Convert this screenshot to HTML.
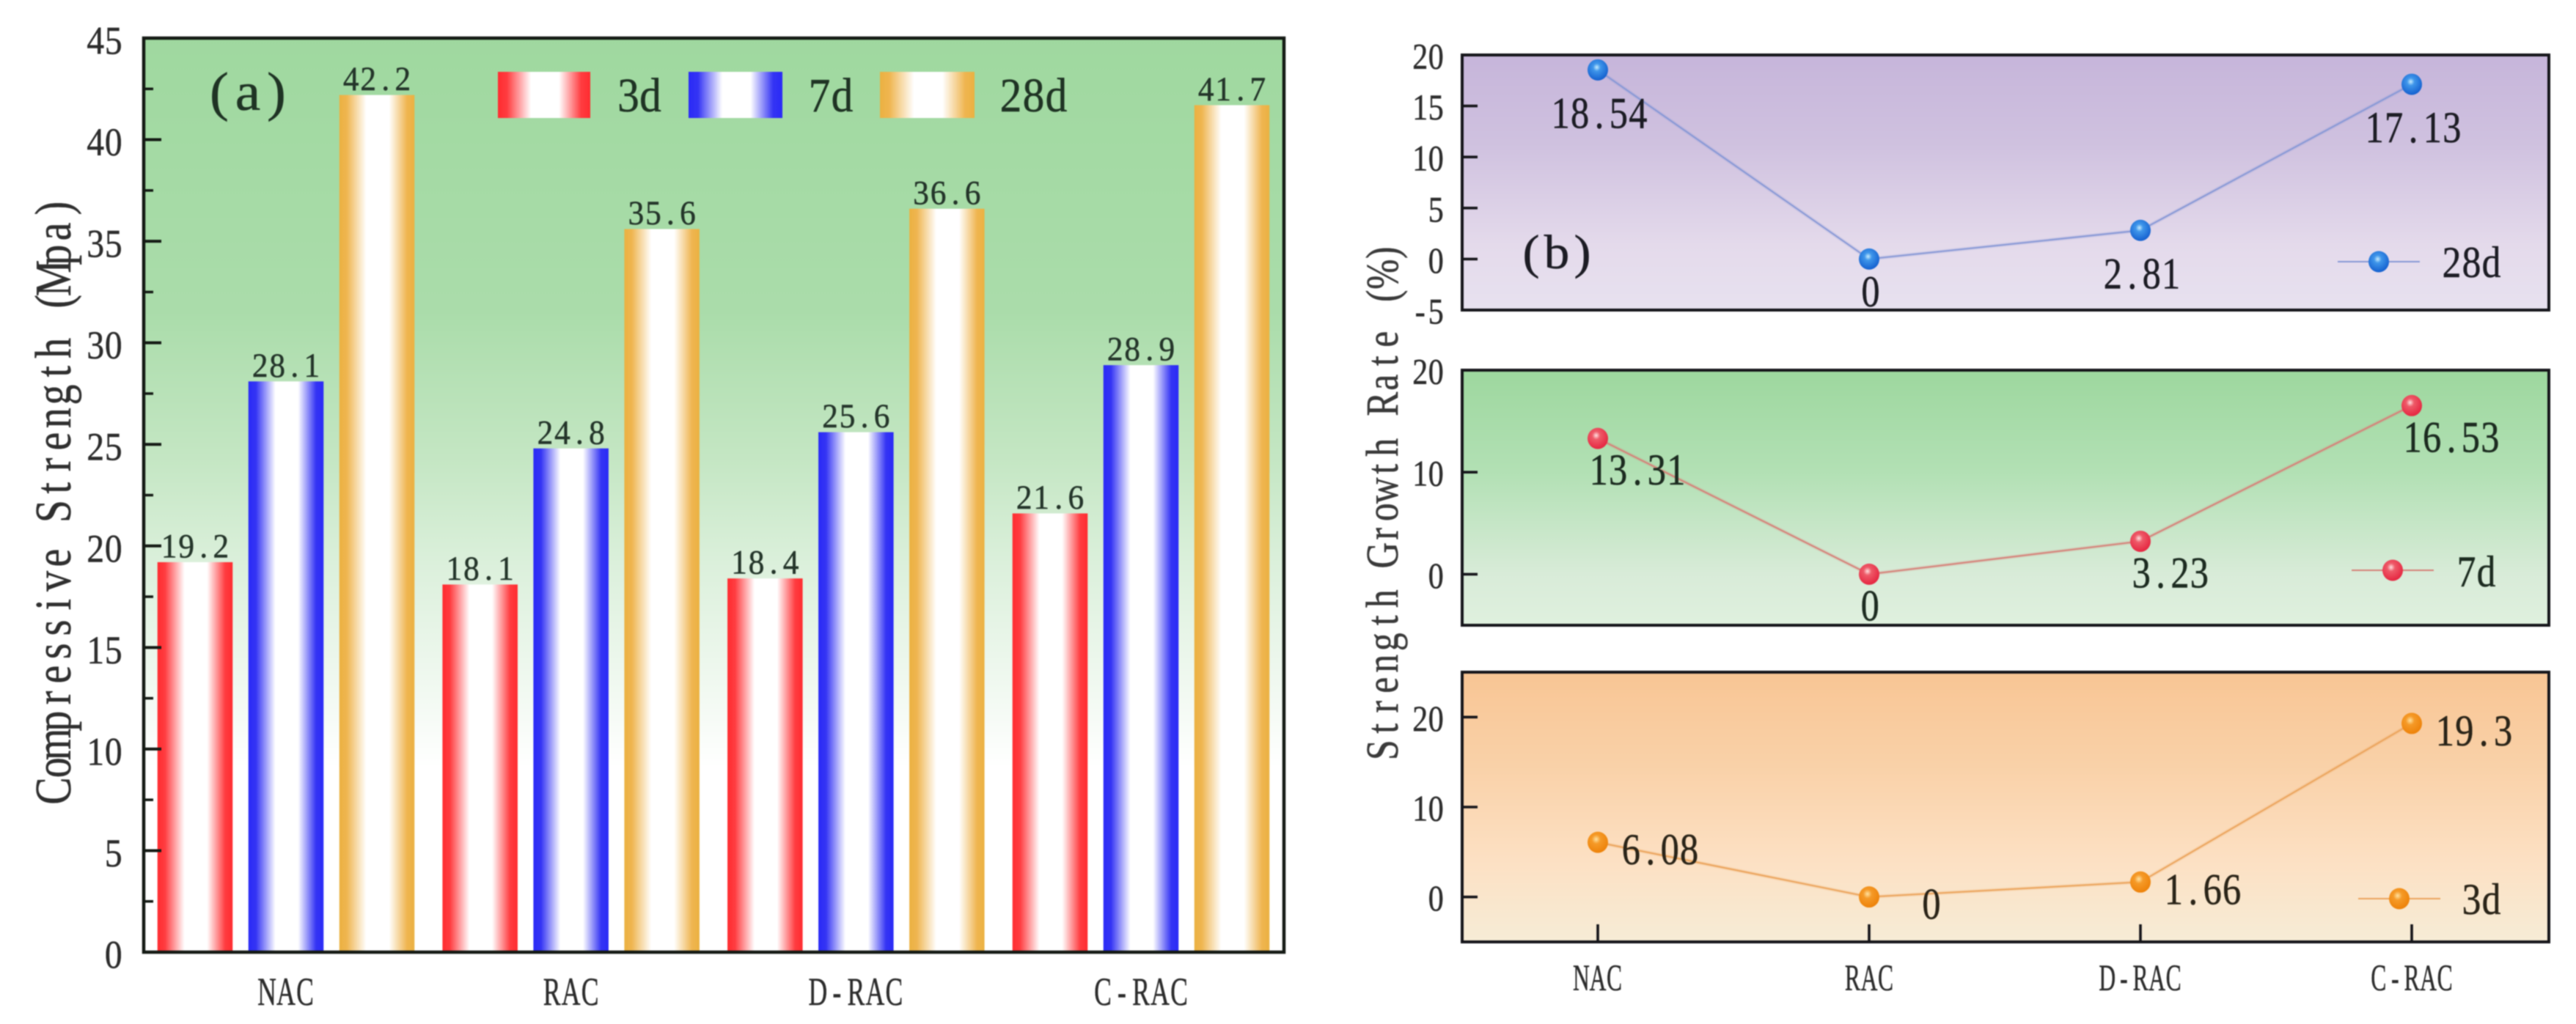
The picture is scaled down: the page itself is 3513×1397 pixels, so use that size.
<!DOCTYPE html>
<html lang="en">
<head>
<meta charset="utf-8">
<title>Compressive strength and strength growth rate</title>
<style>
html,body{margin:0;padding:0;background:#fff;}
#figure{display:block;width:3513px;height:1397px;filter:blur(0.9px);}
text{font-family:"Liberation Serif","Noto Serif CJK SC",serif;white-space:pre;}
</style>
</head>
<body>
<svg id="figure" xmlns="http://www.w3.org/2000/svg" width="3513" height="1397" viewBox="0 0 3513 1397">
<defs>
<linearGradient id="bg-green-a" x1="0" y1="0" x2="0" y2="1">
<stop offset="0" stop-color="#9fd89f"/><stop offset="0.3" stop-color="#aadcaa"/><stop offset="0.46" stop-color="#c4e6c3"/><stop offset="0.58" stop-color="#dcf0dc"/><stop offset="0.72" stop-color="#f2f9f2"/><stop offset="0.8" stop-color="#ffffff"/><stop offset="1" stop-color="#ffffff"/>
</linearGradient>
<linearGradient id="bg-purple" x1="0" y1="0" x2="0" y2="1"><stop offset="0" stop-color="#c6b5da"/><stop offset="0.35" stop-color="#cfc1df"/><stop offset="0.75" stop-color="#e4daeb"/><stop offset="1" stop-color="#e7e1ef"/></linearGradient>
<linearGradient id="bg-green-b" x1="0" y1="0" x2="0" y2="1"><stop offset="0" stop-color="#9dd79e"/><stop offset="0.4" stop-color="#b2e0b4"/><stop offset="0.8" stop-color="#d8ebd8"/><stop offset="1" stop-color="#dff0de"/></linearGradient>
<linearGradient id="bg-orange" x1="0" y1="0" x2="0" y2="1"><stop offset="0" stop-color="#f8c594"/><stop offset="0.35" stop-color="#f9d1a8"/><stop offset="0.7" stop-color="#fce0c3"/><stop offset="1" stop-color="#f6ecd6"/></linearGradient>
<linearGradient id="bar-red" x1="0" y1="0" x2="1" y2="0"><stop offset="0" stop-color="#ff2c30"/><stop offset="0.1" stop-color="#ff3c40"/><stop offset="0.36" stop-color="#ffffff"/><stop offset="0.66" stop-color="#ffffff"/><stop offset="0.9" stop-color="#ff3c40"/><stop offset="1" stop-color="#ff2c30"/></linearGradient>
<linearGradient id="bar-blue" x1="0" y1="0" x2="1" y2="0"><stop offset="0" stop-color="#2a2af6"/><stop offset="0.1" stop-color="#3434f4"/><stop offset="0.36" stop-color="#ffffff"/><stop offset="0.66" stop-color="#ffffff"/><stop offset="0.9" stop-color="#3434f4"/><stop offset="1" stop-color="#2a2af6"/></linearGradient>
<linearGradient id="bar-orange" x1="0" y1="0" x2="1" y2="0"><stop offset="0" stop-color="#ebb141"/><stop offset="0.1" stop-color="#efb550"/><stop offset="0.36" stop-color="#ffffff"/><stop offset="0.66" stop-color="#ffffff"/><stop offset="0.9" stop-color="#efb550"/><stop offset="1" stop-color="#ebb141"/></linearGradient>
<radialGradient id="ball-blue" cx="0.45" cy="0.38" r="0.6"><stop offset="0" stop-color="#c6ecff"/><stop offset="0.3" stop-color="#3f96ea"/><stop offset="1" stop-color="#1662d0"/></radialGradient>
<radialGradient id="ball-red" cx="0.42" cy="0.36" r="0.6"><stop offset="0" stop-color="#ffe0e0"/><stop offset="0.32" stop-color="#ee5a68"/><stop offset="1" stop-color="#e62a44"/></radialGradient>
<radialGradient id="ball-orange" cx="0.42" cy="0.36" r="0.6"><stop offset="0" stop-color="#ffe2a0"/><stop offset="0.35" stop-color="#f59a28"/><stop offset="1" stop-color="#ee840c"/></radialGradient>
</defs>
<g id="chart-root"></g>
</svg>
<script>
const categories = ['NAC', 'RAC', 'D-RAC', 'C-RAC'];
const strength3d = [19.2, 18.1, 18.4, 21.6];
const strength7d = [28.1, 24.8, 25.6, 28.9];
const strength28d = [42.2, 35.6, 36.6, 41.7];
const strengthTicks = [0, 5, 10, 15, 20, 25, 30, 35, 40, 45];
const growth28d = [18.54, 0, 2.81, 17.13];
const growth7d = [13.31, 0, 3.23, 16.53];
const growth3d = [6.08, 0, 1.66, 19.3];
const growth28dTicks = [-5, 0, 5, 10, 15, 20];
const growth7dTicks = [0, 10, 20];
const growth3dTicks = [0, 10, 20];

const NS = 'http://www.w3.org/2000/svg';
const root = document.getElementById('chart-root');

function make(parent, tag, attrs) {
  const el = document.createElementNS(NS, tag);
  for (const k in attrs) el.setAttribute(k, attrs[k]);
  parent.appendChild(el);
  return el;
}

// Text laid out in even half-em cells, imitating the original Song typeface.
function cellText(parent, str, anchorX, baseline, o) {
  const n = str.length;
  const left = o.anchor === 'end' ? anchorX - n * o.pitch : o.anchor === 'start' ? anchorX : anchorX - n * o.pitch / 2;
  const xs = [];
  for (let i = 0; i < n; i++) xs.push(((i + 0.5) * o.pitch / o.sx).toFixed(2));
  const fill = o.fill || '#1f1f1f';
  const el = make(parent, 'text', {
    x: xs.join(' '), y: 0, 'text-anchor': 'middle', 'font-size': o.size, fill: fill, stroke: fill, 'stroke-width': 0.5,
    transform: 'translate(' + left + ' ' + baseline + ') scale(' + o.sx + ' 1)'
  });
  el.textContent = str;
  return el;
}

function verticalTitle(parent, str, baselineX, bottomY, o) {
  const xs = [];
  for (let i = 0; i < str.length; i++) xs.push(((i + 0.5) * o.pitch / o.sx).toFixed(2));
  const fill = o.fill || '#333';
  const el = make(parent, 'text', {
    x: xs.join(' '), y: 0, 'text-anchor': 'middle', 'font-size': o.size, fill: fill, stroke: fill, 'stroke-width': 0.5,
    transform: 'translate(' + baselineX + ' ' + bottomY + ') rotate(-90) scale(' + o.sx + ' 1)'
  });
  el.textContent = str;
  return el;
}

function linear(d0, d1, r0, r1) {
  return v => r0 + (v - d0) * (r1 - r0) / (d1 - d0);
}

/* ---------- Panel (a): bar chart ---------- */
const panelA = make(root, 'g', {});



const aBox = { left: 196, right: 1751, top: 52, bottom: 1299 };
const yA = linear(0, 45, aBox.bottom, aBox.top);
const xA = linear(0, 3, 390, 1556);
const barSpread = 124;
const barWidth = 102.5;

const aBg = make(panelA, 'rect', { x: aBox.left, y: aBox.top, width: aBox.right - aBox.left, height: aBox.bottom - aBox.top, fill: 'url(#bg-green-a)' });



const barSeries = [
  { key: '3d', values: strength3d, fill: 'url(#bar-red)', offset: -1 },
  { key: '7d', values: strength7d, fill: 'url(#bar-blue)', offset: 0 },
  { key: '28d', values: strength28d, fill: 'url(#bar-orange)', offset: 1 }
];

barSeries.forEach(s => {
  s.values.forEach((v, i) => {
    const cx = xA(i) + s.offset * barSpread;
    const bar = make(panelA, 'rect', { x: cx - barWidth / 2, y: yA(v), width: barWidth, height: yA(0) - yA(v), fill: s.fill });
    
    
    const label = cellText(panelA, String(v), cx, yA(v) - 6.5, { size: 47, pitch: 23.5, sx: 0.92, fill: '#24352a' });
    
    
  });
});

const aFrame = make(panelA, 'rect', { x: aBox.left, y: aBox.top, width: aBox.right - aBox.left, height: aBox.bottom - aBox.top, fill: 'none', stroke: '#141a14', 'stroke-width': 4.5 });



strengthTicks.forEach((t, i) => {
  const y = yA(t);
  if (t > 0 && t < 45) {
    const major = make(panelA, 'line', { x1: aBox.left, x2: aBox.left + 24, y1: y, y2: y, stroke: '#141a14', 'stroke-width': 4 });
    
    
  }
  const label = cellText(panelA, String(t), 167, y + 21.5, { size: 54, pitch: 24.5, sx: 0.88, anchor: 'end', fill: '#2c2c2c' });
  
  
  if (i < strengthTicks.length - 1) {
    const m = (t + strengthTicks[i + 1]) / 2;
    const minor = make(panelA, 'line', { x1: aBox.left, x2: aBox.left + 13, y1: yA(m), y2: yA(m), stroke: '#141a14', 'stroke-width': 3.5 });
    
    
  }
});

categories.forEach((c, i) => {
  const label = cellText(panelA, c, xA(i), 1371, { size: 54, pitch: 26, sx: 0.66, fill: '#2c2c2c' });
  
  
});

const aTitle = verticalTitle(panelA, 'Compressive Strength (Mpa)', 96, 1095, { size: 70, pitch: 31.8, sx: 0.8, fill: '#2f2f2f' });



const aTag = cellText(panelA, '(a)', 338, 150, { size: 74, pitch: 39, sx: 1.05, fill: '#1f3324' });



const legendA = make(panelA, 'g', {});


const legendEntries = [
  { key: '3d', fill: 'url(#bar-red)', sx0: 679, sw: 126, tx: 842, pitch: 30 },
  { key: '7d', fill: 'url(#bar-blue)', sx0: 939, sw: 128, tx: 1102, pitch: 31 },
  { key: '28d', fill: 'url(#bar-orange)', sx0: 1200, sw: 129, tx: 1363, pitch: 31 }
];
legendEntries.forEach(e => {
  const sw = make(legendA, 'rect', { x: e.sx0, y: 98, width: e.sw, height: 63, fill: e.fill });
  
  
  const t = cellText(legendA, e.key, e.tx, 152, { size: 66, pitch: e.pitch, sx: 0.9, anchor: 'start', fill: '#1f3324' });
  
  
});

/* ---------- Panel (b): stacked line charts ---------- */
const panelB = make(root, 'g', {});



const bLeft = 1994, bRight = 3476;
const xB = linear(0, 3, 2179, 3289);

const subplots = [
  { key: '28d', values: growth28d, ticks: growth28dTicks, top: 75, bottom: 423, d0: -5, d1: 20, bg: 'url(#bg-purple)', ball: 'url(#ball-blue)', line: '#8798d6', textFill: '#1c1c24',
    labelAnchor: 'middle', labelDx: 2, labelDy: 79, legendX: 3188, legendY: 357, legendBaseline: 378, legendTx: 3330 },
  { key: '7d', values: growth7d, ticks: growth7dTicks, top: 505, bottom: 853, d0: -5, d1: 20, bg: 'url(#bg-green-b)', ball: 'url(#ball-red)', line: '#d68078', textFill: '#1c2b20',
    labelAnchor: 'start', labelDx: -12, labelDy: 63, legendX: 3207, legendY: 778, legendBaseline: 800, legendTx: 3350 },
  { key: '3d', values: growth3d, ticks: growth3dTicks, top: 917, bottom: 1285, d0: -5, d1: 25, bg: 'url(#bg-orange)', ball: 'url(#ball-orange)', line: '#eba45c', textFill: '#2a2418',
    labelAnchor: 'middle', labelDx: 85, labelDy: 30, legendX: 3216, legendY: 1226, legendBaseline: 1247, legendTx: 3357 }
];

subplots.forEach(p => {
  const g = make(panelB, 'g', {});
  
  
  const y = linear(p.d0, p.d1, p.bottom, p.top);

  const bg = make(g, 'rect', { x: bLeft, y: p.top, width: bRight - bLeft, height: p.bottom - p.top, fill: p.bg });
  
  

  const points = p.values.map((v, i) => xB(i) + ',' + y(v)).join(' ');
  const halo = make(g, 'polyline', { points: points, fill: 'none', stroke: p.line, 'stroke-width': 5, 'stroke-opacity': 0.22 });
  
  
  const line = make(g, 'polyline', { points: points, fill: 'none', stroke: p.line, 'stroke-width': 2 });
  
  

  const frame = make(g, 'rect', { x: bLeft, y: p.top, width: bRight - bLeft, height: p.bottom - p.top, fill: 'none', stroke: '#15151a', 'stroke-width': 4 });
  
  

  p.ticks.forEach(t => {
    const ty = y(t);
    if (ty > p.top + 4 && ty < p.bottom - 4) {
      const tick = make(g, 'line', { x1: bLeft, x2: bLeft + 21, y1: ty, y2: ty, stroke: '#15151a', 'stroke-width': 3.6 });
      
      
    }
    const lab = cellText(g, String(t), 1969, ty + 18.5, { size: 50, pitch: 21.5, sx: 0.84, anchor: 'end', fill: '#2c2c2c' });
    
    
  });

  p.values.forEach((v, i) => {
    const px = xB(i), py = y(v);
    const dot = make(g, 'ellipse', { cx: px, cy: py, rx: 14, ry: 14.5, fill: p.ball });
    
    
    const base = Math.min(py + p.labelDy, p.bottom - 5);
    const lab = cellText(g, String(v), px + p.labelDx, base, { size: 60, pitch: 26.4, sx: 0.84, anchor: p.labelAnchor, fill: p.textFill });
    
    
  });

  const lgLine = make(g, 'line', { x1: p.legendX, x2: p.legendX + 112, y1: p.legendY, y2: p.legendY, stroke: p.line, 'stroke-width': 2 });
  
  
  const lgDot = make(g, 'ellipse', { cx: p.legendX + 56, cy: p.legendY, rx: 14, ry: 14.5, fill: p.ball });
  
  
  const lgText = cellText(g, p.key, p.legendTx, p.legendBaseline, { size: 60, pitch: 27, sx: 0.86, anchor: 'start', fill: p.textFill });
  
  
});

categories.forEach((c, i) => {
  const tick = make(panelB, 'line', { x1: xB(i), x2: xB(i), y1: 1261, y2: 1285, stroke: '#15151a', 'stroke-width': 3.6 });
  
  
  const lab = cellText(panelB, c, xB(i), 1351, { size: 51, pitch: 22.6, sx: 0.62, fill: '#2c2c2c' });
  
  
});

const bTitle = verticalTitle(panelB, 'Strength Growth Rate (%)', 1906, 1038, { size: 62, pitch: 29.5, sx: 0.8, fill: '#3a3a3a' });



const bTag = cellText(panelB, '(b)', 2123, 366, { size: 66, pitch: 35, sx: 1.05, fill: '#1c1c24' });


</script>
</body>
</html>
